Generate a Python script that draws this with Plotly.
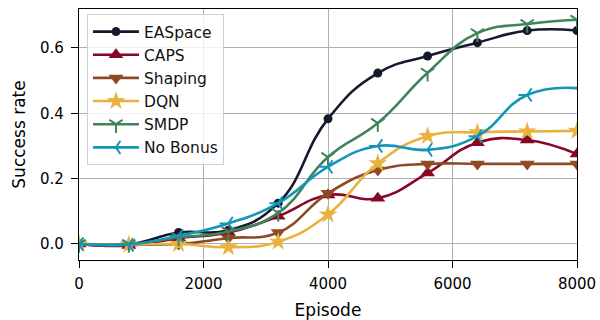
import plotly.graph_objects as go

episodes = [0, 800, 1600, 2400, 3200, 4000, 4800, 5600, 6400, 7200, 8000]

easpace = [0.0, -0.002, 0.035, 0.042, 0.125, 0.383, 0.523, 0.575, 0.616, 0.653, 0.653]
caps = [0.0, -0.005, 0.018, 0.035, 0.085, 0.15, 0.14, 0.217, 0.31, 0.318, 0.275]
shaping = [0.0, -0.002, 0.0, 0.018, 0.035, 0.155, 0.226, 0.245, 0.245, 0.245, 0.245]
dqn = [0.0, -0.002, 0.0, -0.01, 0.007, 0.09, 0.247, 0.33, 0.342, 0.344, 0.346]
smdp = [0.0, 0.0, 0.02, 0.038, 0.095, 0.266, 0.37, 0.524, 0.645, 0.673, 0.686]
no_bonus = [0.0, -0.002, 0.025, 0.063, 0.125, 0.236, 0.30, 0.288, 0.33, 0.456, 0.477]

series = [
    ("EASpace", easpace, "#141a2c", "circle", 9),
    ("CAPS", caps, "#870726", "triangle-up", 13),
    ("Shaping", shaping, "#8e4a24", "triangle-down", 13),
    ("DQN", dqn, "#e9b23e", "star", 14),
    ("SMDP", smdp, "#3f845a", "y-down", 11),
    ("No Bonus", no_bonus, "#1596b8", "y-left", 11),
]

fig = go.Figure()
for i, (name, vals, color, sym, size) in enumerate(series):
    open_sym = sym.startswith("y-")
    fig.add_trace(go.Scatter(
        x=episodes, y=vals, name=name, mode="lines+markers",
        legendgroup=f"g{i}",
        line=dict(color=color, width=2.6, shape="spline", smoothing=1.3),
        marker=dict(symbol=sym, size=size, color=color,
                    line=dict(color=color, width=2 if open_sym else 0)),
    ))

fig.update_layout(
    width=600, height=320,
    margin=dict(l=79, r=23, t=9, b=60),
    paper_bgcolor="white", plot_bgcolor="white",
    font=dict(family="DejaVu Sans", size=15, color="black"),
    showlegend=True,
    legend=dict(
        x=0.016, y=0.98, xanchor="left", yanchor="top",
        bgcolor="rgba(255,255,255,0.8)", bordercolor="#d0d0d0", borderwidth=1,
        font=dict(family="DejaVu Sans", size=15.5, color="#111111"),
        tracegroupgap=0, itemwidth=46,
    ),
    xaxis=dict(
        range=[0, 8000], tickvals=[0, 2000, 4000, 6000, 8000],
        ticktext=["0", "2000", "4000", "6000", "8000"],
        showgrid=True, gridcolor="#b0b0b0", gridwidth=1,
        showline=True, linecolor="black", linewidth=1.2, mirror=True,
        ticks="outside", ticklen=7, tickcolor="black", zeroline=False,
        tickfont=dict(size=15), ticklabelstandoff=3, automargin=False,
        title=dict(text="Episode", font=dict(size=17), standoff=13),
    ),
    yaxis=dict(
        range=[-0.049, 0.719], tickvals=[0.0, 0.2, 0.4, 0.6],
        ticktext=["0.0", "0.2", "0.4", "0.6"],
        showgrid=True, gridcolor="#b0b0b0", gridwidth=1,
        showline=True, linecolor="black", linewidth=1.2, mirror=True,
        ticks="outside", ticklen=7, tickcolor="black", zeroline=False,
        tickfont=dict(size=15), ticklabelstandoff=4, automargin=False,
        title=dict(text="Success rate", font=dict(size=17), standoff=10),
    ),
)

fig.write_html(
    "out.html",
    config={"displayModeBar": False},
    post_script="document.body.style.margin='0';document.body.style.overflow='hidden';",
)
